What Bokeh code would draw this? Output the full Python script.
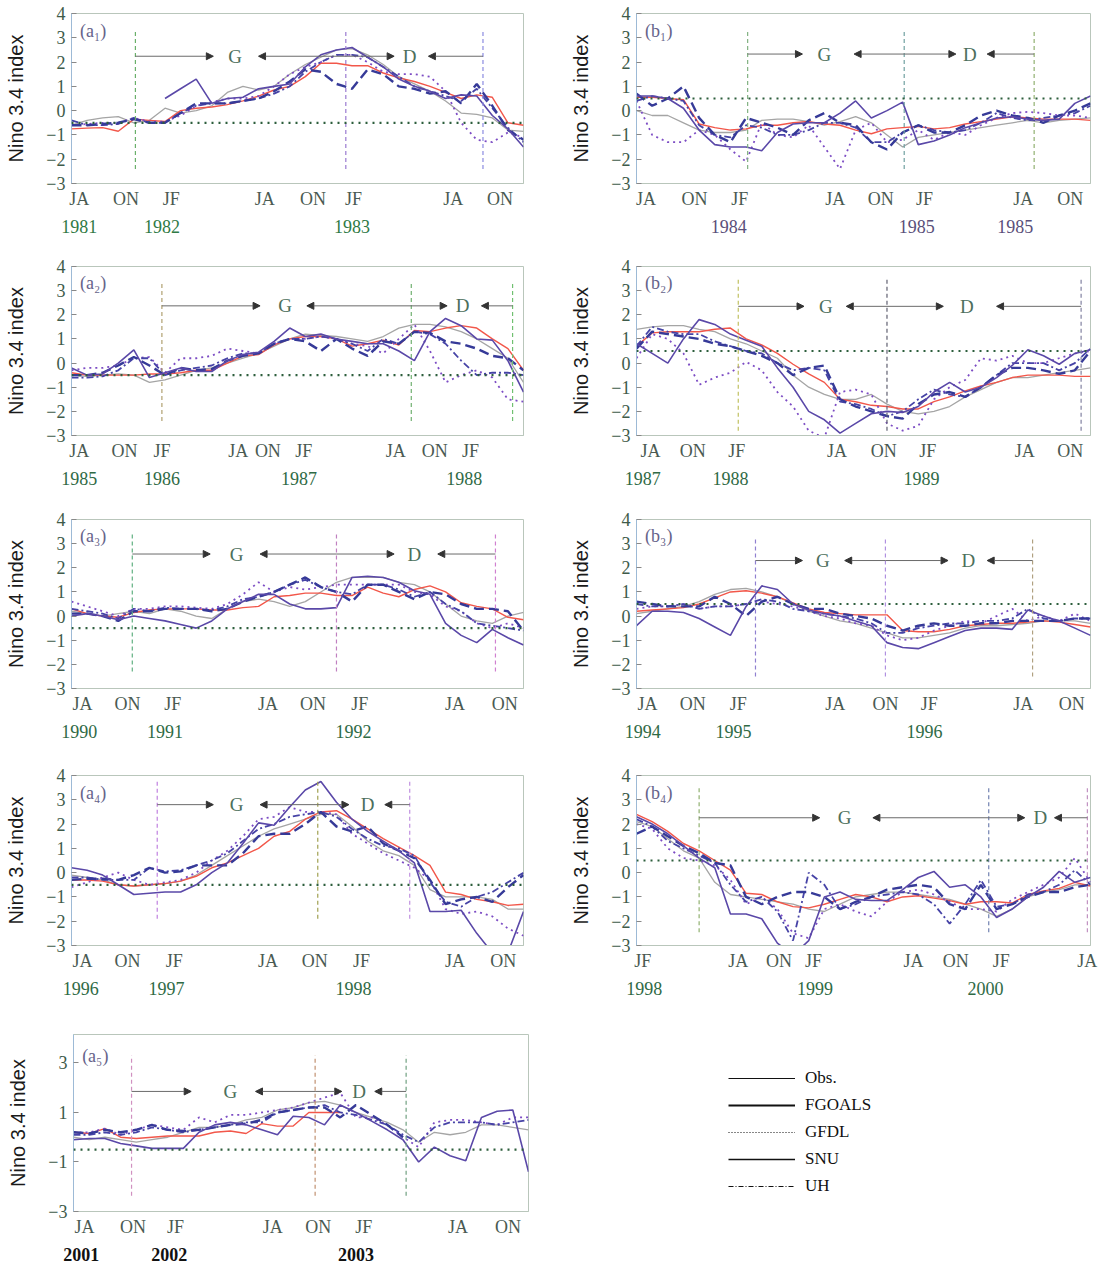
import numpy as np
from bokeh.plotting import figure
from bokeh.models import (Range1d, FixedTicker, LinearAxis, Span, Arrow, NormalHead,
                          ColumnDataSource, Legend, LegendItem)
from bokeh.layouts import column, row
from bokeh.core.properties import value
from bokeh.embed import file_html
from bokeh.resources import INLINE

N = None
# ---------------- data (Nino 3.4 index, monthly, 30 months per panel) ----------------
a1_obs = [-0.6,-0.4,-0.3,-0.25,-0.5,-0.4,0.1,-0.1,0.0,0.2, 0.75,1.0,0.85,1.0,1.5,1.9,2.2,2.5,2.55,2.3, 1.9,1.4,1.1,0.8,0.4,-0.1,-0.15,-0.3,-0.8,-0.85]
a1_ens = [-0.75,-0.72,-0.7,-0.85,-0.35,-0.4,-0.45,0.0,0.1,0.15, 0.25,0.4,0.6,0.85,1.0,1.4,1.95,1.95,1.85,1.85, 1.55,1.35,1.2,1.0,0.75,0.5,0.65,0.55,-0.5,-0.6]
a1_snu = [N,N,N,N,N,N,0.5,0.9,1.3,0.3, 0.5,0.55,0.9,1.0,1.1,1.8,2.3,2.5,2.6,2.2, 1.8,1.3,1.0,0.8,0.5,0.65,0.6,-0.2,-0.75,-1.5]
a1_fgoals = [-0.6,-0.6,-0.55,-0.5,-0.35,-0.5,-0.5,-0.1,0.3,0.3, 0.3,0.4,0.5,0.8,1.2,1.7,1.6,1.1,0.9,1.7, 1.5,1.0,0.9,0.7,0.8,0.3,1.1,0.2,-0.8,-1.2]
a1_gfdl = [-0.6,-0.55,-0.5,-0.5,-0.3,-0.45,-0.45,-0.2,0.2,0.35, 0.5,0.5,0.6,1.0,1.5,1.8,2.0,2.3,2.3,2.0, 1.6,1.5,1.5,1.4,0.8,-0.5,-1.2,-1.3,-0.9,-1.1]
a1_uh = [-0.4,-0.6,-0.6,-0.55,-0.3,-0.5,-0.5,-0.1,0.2,0.3, 0.3,0.4,0.5,0.7,1.0,1.6,2.0,2.3,2.3,2.2, 1.8,1.4,1.0,0.8,0.6,0.4,0.9,0.1,-0.7,-1.3]

a2_obs = [-0.5,-0.55,-0.5,-0.45,-0.5,-0.8,-0.7,-0.5,-0.3,-0.2, 0.0,0.2,0.4,0.7,1.0,1.2,1.15,1.1,1.0,0.9, 1.1,1.45,1.6,1.6,1.5,1.3,1.0,0.6,0.2,-0.8]
a2_ens = [-0.4,-0.5,-0.5,-0.5,-0.5,-0.45,-0.45,-0.4,-0.3,-0.3, 0.0,0.3,0.35,0.75,1.0,1.1,1.1,1.0,0.7,0.8, 0.95,0.75,1.35,1.3,1.45,1.55,1.45,1.0,0.6,-0.3]
a2_snu = [-0.2,-0.5,-0.45,0.0,0.55,-0.6,-0.4,-0.2,-0.35,-0.35, 0.1,0.35,0.45,0.9,1.45,1.1,1.2,1.0,0.9,0.8, 0.8,0.5,0.1,1.3,1.85,1.55,1.0,0.95,0.1,-1.2]
a2_fgoals = [-0.5,-0.5,-0.4,-0.1,0.25,-0.1,-0.5,-0.2,-0.3,-0.25, 0.1,0.3,0.4,0.8,1.0,0.9,0.5,1.0,0.6,0.3, 0.9,0.8,1.3,1.25,0.9,0.8,0.6,0.3,0.2,-0.3]
a2_gfdl = [-0.3,-0.2,-0.2,-0.1,0.2,0.25,-0.4,0.2,0.2,0.3, 0.6,0.5,0.4,0.8,1.0,1.0,1.1,1.0,0.8,0.7, 0.4,1.0,1.6,0.5,-0.8,-0.5,-0.3,-0.6,-1.5,-1.6]
a2_uh = [-0.6,-0.6,-0.55,-0.3,0.2,0.2,-0.5,-0.3,-0.2,-0.1, 0.2,0.4,0.4,0.8,1.0,1.0,1.1,1.0,0.8,0.5, 1.0,0.8,1.3,1.2,0.8,0.1,-0.5,-0.4,-0.4,-0.5]

a3_obs = [0.2,0.1,0.0,0.1,0.2,0.1,0.3,0.2,0.0,-0.1, 0.3,0.6,0.7,0.6,0.4,0.6,1.0,1.4,1.6,1.6, 1.6,1.4,1.3,1.0,0.5,0.0,-0.2,-0.3,0.0,0.15]
a3_ens = [0.3,0.1,0.0,-0.05,0.15,0.25,0.3,0.3,0.3,0.25, 0.25,0.35,0.4,0.8,0.85,0.95,0.95,0.85,0.85,1.2, 0.95,0.8,1.1,1.25,1.0,0.55,0.4,0.3,-0.05,-0.15]
a3_snu = [0.0,0.1,0.0,-0.15,0.0,-0.1,-0.2,-0.35,-0.5,-0.2, 0.3,0.6,0.9,0.9,0.5,0.3,0.3,0.35,1.6,1.65, 1.6,1.4,1.05,0.9,-0.3,-0.8,-1.1,-0.55,-0.9,-1.2]
a3_fgoals = [0.1,0.1,0.0,-0.2,0.2,0.2,0.3,0.3,0.3,0.2, 0.3,0.6,0.8,1.0,1.3,1.6,1.2,1.0,0.6,1.3, 1.3,1.0,0.7,1.0,0.9,0.5,0.3,0.3,0.2,-0.6]
a3_gfdl = [0.6,0.4,0.2,0.0,0.3,0.3,0.4,0.4,0.35,0.3, 0.5,0.9,1.4,1.0,1.2,1.1,1.2,1.3,1.3,1.3, 1.3,1.3,1.0,0.9,0.4,0.2,-0.3,-0.5,-0.3,-0.5]
a3_uh = [0.3,0.2,0.1,-0.1,0.3,0.2,0.35,0.3,0.3,0.25, 0.4,0.7,0.8,1.0,1.3,1.5,1.2,1.0,0.9,1.3, 1.3,1.1,0.8,1.0,0.5,0.2,-0.3,-0.4,-0.5,-0.6]

a4_obs = [-0.1,-0.2,-0.3,-0.5,-0.55,-0.5,-0.45,-0.35,-0.1,0.3, 0.7,1.1,1.5,1.8,2.0,2.2,2.4,2.4,1.9,1.3, 0.9,0.7,0.3,-0.7,-1.0,-1.0,-1.0,-1.1,-1.5,-1.5]
a4_ens = [-0.3,-0.3,-0.35,-0.5,-0.55,-0.5,-0.45,-0.35,-0.15,0.2, 0.4,0.7,1.0,1.5,1.7,2.2,2.5,2.55,2.2,1.8, 1.4,1.05,0.7,0.3,-0.8,-0.9,-1.1,-1.2,-1.35,-1.3]
a4_snu = [0.2,0.1,-0.1,-0.5,-0.9,-0.85,-0.8,-0.8,-0.5,0.0, 0.4,1.2,2.05,1.95,2.7,3.4,3.75,2.9,2.2,1.7, 1.3,0.9,0.4,-1.6,-1.6,-1.55,-2.5,-3.3,-3.3,-1.6]
a4_fgoals = [-0.3,-0.25,-0.25,-0.3,-0.1,0.2,0.0,0.05,0.3,0.3, 0.3,0.8,1.5,1.6,1.6,2.0,2.5,1.9,1.7,1.9, 1.2,0.9,0.6,-0.3,-1.3,-1.1,-1.0,-1.2,-0.6,-0.1]
a4_gfdl = [-0.6,-0.4,-0.2,0.0,-0.3,-0.5,-0.4,-0.3,0.0,0.5, 0.9,1.5,2.2,2.3,2.7,2.5,2.5,2.4,1.6,1.2, 0.8,0.5,0.2,-0.3,-1.5,-1.7,-1.6,-1.8,-2.3,-2.6]
a4_uh = [-0.2,-0.2,-0.3,-0.3,-0.3,0.2,0.05,0.1,0.3,0.5, 0.8,1.3,1.8,2.0,2.3,2.4,2.5,2.3,1.8,1.4, 1.1,1.0,0.7,-0.4,-1.2,-1.4,-1.0,-0.8,-0.4,0.0]

a5_obs = [0.0,-0.1,0.0,-0.1,-0.2,-0.1,0.0,0.2,0.4,0.4, 0.5,0.7,0.8,1.1,1.2,1.4,1.45,1.3,1.0,0.8, 0.6,0.3,-0.2,0.2,0.1,0.2,0.5,0.5,0.4,0.3]
a5_ens = [0.2,0.15,0.35,0.0,-0.05,0.0,0.05,0.05,0.05,0.2, 0.25,0.15,0.55,0.45,0.45,1.0,1.0,1.0,N,N, N,N,N,N,N,N,N,N,N,N]
a5_snu = [-0.1,-0.05,-0.05,-0.25,-0.35,-0.45,-0.45,-0.45,0.2,0.5, 0.6,0.5,0.3,0.1,0.85,0.8,0.5,1.3,1.0,0.65, 0.3,-0.1,-1.0,-0.4,-0.75,-0.95,0.8,1.05,1.1,-1.4]
a5_fgoals = [0.2,0.15,0.3,0.2,0.3,0.5,0.3,0.25,0.3,0.4, 0.5,0.55,0.7,1.0,1.1,1.2,1.2,0.8,1.3,0.9, 0.5,0.0,N,N,N,N,N,N,N,N]
a5_gfdl = [0.2,0.2,0.35,0.1,0.3,0.5,0.4,0.3,0.8,0.6, 0.9,0.9,1.0,1.1,1.2,1.4,1.6,1.8,0.8,0.8, 0.5,0.0,-0.4,0.6,0.7,0.7,0.6,0.5,0.8,0.8]
a5_uh = [0.1,0.1,0.2,0.1,0.2,0.4,0.3,0.2,0.3,0.4, 0.5,0.6,0.6,1.0,1.1,1.2,1.3,1.0,0.9,0.7, 0.5,0.1,-0.2,0.4,0.6,0.6,0.6,0.5,0.6,0.7]

b1_obs = [0.0,-0.2,-0.2,-0.5,-0.8,-0.9,-0.9,-0.8,-0.4,-0.35, -0.35,-0.45,-0.6,-0.45,-0.25,-0.5,-1.0,-1.5,-1.1,-1.0, -0.9,-0.8,-0.7,-0.6,-0.5,-0.4,-0.5,-0.4,-0.35,-0.3]
b1_ens = [0.55,0.55,0.5,0.45,-0.55,-0.7,-0.8,-0.75,-0.6,-0.6, -0.5,-0.45,-0.55,-0.6,-0.8,-0.95,-0.75,-0.7,-0.65,-0.75, -0.7,-0.55,-0.45,-0.35,-0.25,-0.3,-0.35,-0.35,-0.35,-0.4]
b1_snu = [0.6,0.6,0.5,0.1,-0.8,-1.4,-1.5,-1.5,-1.65,-0.9, -0.55,-0.5,-0.5,-0.1,0.4,-0.3,0.0,0.35,-1.4,-1.25, -1.0,-0.7,-0.5,-0.3,-0.25,-0.35,-0.4,-0.35,0.3,0.6]
b1_fgoals = [0.7,0.2,0.5,1.0,-0.3,-1.0,-1.3,-0.3,-0.5,-0.7, -1.0,-0.4,-0.1,-0.5,-0.6,-1.3,-1.6,-0.9,-0.6,-0.9, -0.9,-0.6,-0.2,0.0,-0.2,-0.3,-0.5,-0.2,0.0,0.3]
b1_gfdl = [0.4,-1.0,-1.3,-1.3,-0.8,-1.0,-1.6,-2.1,-0.5,-1.0, -1.1,-0.6,-1.5,-2.4,-0.8,-0.5,-1.3,-1.2,-0.8,-1.2, -0.9,-1.0,-0.6,-0.3,-0.1,-0.05,-0.1,-0.2,-0.2,-0.3]
b1_uh = [0.4,0.6,0.5,0.4,-0.6,-1.0,-1.1,-0.6,-0.7,-1.0, -1.0,-0.8,-0.5,-0.5,-0.7,-1.3,-1.3,-0.9,-0.6,-0.8, -0.9,-0.8,-0.5,-0.1,-0.3,-0.4,-0.3,-0.2,-0.1,0.2]

b2_obs = [1.4,1.5,1.55,1.55,1.4,1.3,1.0,0.8,0.5,0.2, -0.5,-1.0,-1.3,-1.5,-1.5,-1.3,-1.7,-2.0,-2.1,-2.0, -1.8,-1.4,-1.1,-0.8,-0.6,-0.6,-0.5,-0.4,-0.3,-0.2]
b2_ens = [0.7,1.25,1.3,1.3,1.3,1.4,1.45,1.0,0.75,0.4, -0.05,-0.45,-0.8,-1.5,-1.6,-1.75,-1.8,-1.9,-1.9,-1.6, -1.4,-1.15,-0.95,-0.8,-0.6,-0.5,-0.5,-0.5,-0.55,-0.55]
b2_snu = [0.8,0.4,0.0,1.0,1.8,1.6,1.2,0.95,0.7,-0.2, -1.0,-2.0,-2.35,-2.9,-2.5,-2.1,-2.0,-2.05,-1.8,-1.2, -0.8,-1.2,-1.0,-0.6,-0.1,0.55,0.3,-0.05,0.4,0.55]
b2_fgoals = [0.6,1.3,1.2,1.1,1.0,0.8,0.7,0.5,0.3,0.0, -0.5,-0.2,-0.1,-1.5,-1.8,-2.0,-2.2,-2.3,-1.7,-1.3, -1.2,-1.4,-1.0,-0.5,-0.2,-0.2,-0.3,-0.45,-0.3,0.5]
b2_gfdl = [0.2,1.2,1.0,0.4,-0.9,-0.6,-0.4,0.05,-0.3,-1.2, -1.8,-2.8,-3.1,-1.2,-1.1,-1.3,-2.5,-2.8,-2.6,-1.5, -1.0,-0.7,0.2,0.1,0.3,0.0,0.0,0.2,0.4,0.5]
b2_uh = [0.7,1.5,1.3,1.2,1.2,0.9,0.7,0.5,0.4,0.0, -0.3,-0.2,-0.3,-1.6,-1.7,-1.9,-2.2,-2.0,-1.5,-1.1, -1.3,-1.4,-1.0,-0.5,0.0,0.0,0.0,-0.3,0.0,0.6]

b3_obs = [0.1,0.2,0.3,0.4,0.6,0.9,1.1,1.15,1.0,0.8, 0.5,0.2,0.0,-0.2,-0.3,-0.5,-0.7,-0.9,-0.9,-0.8, -0.7,-0.5,-0.4,-0.4,-0.35,-0.3,-0.2,-0.2,-0.2,-0.3]
b3_ens = [0.2,0.25,0.3,0.35,0.5,0.75,1.0,1.05,0.95,0.8, 0.55,0.3,0.15,0.1,0.05,0.05,0.05,-0.6,-0.65,-0.65, -0.55,-0.4,-0.35,-0.3,-0.3,-0.25,-0.2,-0.25,-0.35,-0.45]
b3_snu = [-0.4,0.2,0.2,0.15,-0.1,-0.45,-0.8,0.4,1.25,1.1, 0.5,0.25,0.1,0.0,-0.2,-0.4,-1.1,-1.3,-1.35,-1.1, -0.85,-0.6,-0.5,-0.5,-0.55,0.25,0.0,-0.2,-0.5,-0.8]
b3_fgoals = [0.6,0.5,0.4,0.4,0.4,0.8,0.5,0.0,0.6,0.8, 0.5,0.3,0.3,0.1,0.0,-0.1,-0.4,-0.6,-0.4,-0.3, -0.4,-0.4,-0.3,-0.3,-0.2,-0.2,-0.2,-0.2,-0.1,-0.1]
b3_gfdl = [0.3,0.4,0.4,0.5,0.3,0.4,0.4,0.5,0.6,0.5, 0.4,0.2,0.0,-0.1,-0.3,-0.4,-0.8,-1.0,-0.9,-0.6, -0.4,-0.2,-0.3,0.0,0.3,-0.2,0.0,-0.2,0.1,-0.2]
b3_uh = [0.5,0.4,0.4,0.5,0.3,0.4,0.4,0.5,0.7,0.6, 0.3,0.2,0.1,0.0,-0.1,-0.3,-0.7,-0.7,-0.5,-0.4, -0.3,-0.3,-0.2,-0.2,-0.1,0.3,-0.1,-0.2,-0.1,-0.1]

b4_obs = [2.1,1.9,1.4,0.9,0.6,-0.4,-0.9,-1.0,-1.1,-1.2, -1.3,-1.5,-1.6,-1.3,-1.0,-0.9,-0.8,-0.8,-0.9,-1.0, -1.1,-1.3,-1.5,-1.8,-1.5,-1.0,-0.8,-0.7,-0.5,-0.5]
b4_ens = [2.4,2.1,1.7,1.2,0.9,0.5,0.1,-0.85,-0.9,-1.2, -1.4,-1.45,-1.3,-1.1,-0.9,-1.0,-1.2,-1.0,-0.95,-1.05, -1.15,-1.3,-1.2,-1.2,-1.25,-0.9,-0.75,-0.65,-0.4,-0.55]
b4_snu = [2.3,2.0,1.6,1.1,0.6,0.2,-1.7,-1.7,-1.9,-2.9, -3.4,-2.8,-1.0,-0.8,-1.1,-1.15,-1.15,-0.7,-0.2,0.05, -0.6,-0.5,-1.0,-1.85,-1.5,-1.0,-0.6,0.05,-0.4,-0.2]
b4_fgoals = [1.6,1.9,1.5,1.1,0.8,0.4,0.3,-1.0,-1.3,-1.0, -0.8,-0.8,-1.0,-1.5,-1.2,-1.0,-0.7,-0.6,-0.5,-0.6, -1.3,-1.5,-0.5,-1.5,-1.3,-1.0,-0.8,-0.8,-0.6,-0.5]
b4_gfdl = [2.0,1.8,1.0,0.6,0.5,0.3,-0.3,-1.3,-1.0,-1.5, -2.5,-2.7,-1.5,-1.3,-1.6,-1.8,-1.2,-0.8,-0.7,-0.9, -1.2,-1.5,-1.5,-1.6,-1.1,-0.8,-0.5,-0.2,0.6,-0.4]
b4_uh = [2.2,1.9,1.3,1.0,0.7,0.4,-0.5,-1.2,-1.0,-1.6, -2.8,0.0,-0.5,-1.5,-1.3,-1.0,-0.9,-0.8,-0.9,-1.3, -2.1,-1.3,-0.3,-1.4,-1.3,-0.9,-0.8,-0.5,0.1,-0.5]

a_threshold = -0.5
b_threshold = 0.5

# tick labels (months) and years
a1_months = ["JA", "ON", "JF", "JA", "ON", "JF", "JA", "ON"]
a2_months = ["JA", "ON", "JF", "JA", "ON", "JF", "JA", "ON", "JF"]
b4_months = ["JF", "JA", "ON", "JF", "JA", "ON", "JF", "JA"]
a1_years = ["1981", "1982", "1983"]
a2_years = ["1985", "1986", "1987", "1988"]
a3_years = ["1990", "1991", "1992"]
a4_years = ["1996", "1997", "1998"]
a5_years = ["2001", "2002", "2003"]
b1_years = ["1984", "1985", "1985"]
b2_years = ["1987", "1988", "1989"]
b3_years = ["1994", "1995", "1996"]
b4_years = ["1998", "1999", "2000"]
legend_labels = ["Obs.", "FGOALS", "GFDL", "SNU", "UH"]

# ---------------- styles ----------------
SERIF = "Liberation Serif"
SANS = "Liberation Sans"
MINUS = "\u2212"
STYLES = {
    "obs": dict(line_color="#a5a5a5", line_width=1.3),
    "ens": dict(line_color="#f2574a", line_width=1.4),
    "gfdl": dict(line_color="#7c4cc4", line_width=1.8, line_dash="2 4"),
    "uh": dict(line_color="#4643a6", line_width=1.8, line_dash="7 3 2 3"),
    "fgoals": dict(line_color="#363a98", line_width=2.4, line_dash="10 5"),
    "snu": dict(line_color="#5a48a8", line_width=1.6),
}


def make_panel(label, series, ticks, months, ypos, years, thr, ann, width, height,
               bl, br, bt, frame_h, y_top=4.0, yticks=(-3, -2, -1, 0, 1, 2, 3, 4),
               year_color="#2f6a45", year_style="normal"):
    bb = height - bt - frame_h
    p = figure(width=width, height=height, x_range=Range1d(0, 29), y_range=Range1d(-3, y_top),
               output_backend="svg", toolbar_location=None,
               min_border_left=bl, min_border_right=br, min_border_top=bt, min_border_bottom=bb)
    p.grid.visible = False
    p.outline_line_color = "#b9c6bb"
    p.background_fill_color = "white"
    p.border_fill_color = "white"

    yax = p.yaxis[0]
    yax.ticker = FixedTicker(ticks=list(yticks))
    yax.major_label_overrides = {t: (MINUS + str(abs(t)) if t < 0 else str(t)) for t in yticks}
    yax.axis_label = "Nino 3.4 index"
    yax.axis_label_text_font = SANS
    yax.axis_label_text_font_size = "20px"
    yax.axis_label_text_font_style = "normal"
    yax.axis_label_text_color = "#1a1a1a"
    yax.axis_label_standoff = 16
    yax.major_label_text_font = SERIF
    yax.major_label_text_font_size = "18px"
    yax.major_label_text_color = "#3e5b4a"
    yax.major_label_standoff = 6
    yax.major_tick_in = 5
    yax.major_tick_out = 0
    yax.major_tick_line_color = "#888888"
    yax.minor_tick_line_color = None
    yax.axis_line_color = "#9dbad6"

    xax = p.xaxis[0]
    xax.ticker = FixedTicker(ticks=ticks)
    xax.major_label_overrides = dict(zip(ticks, months))
    xax.major_tick_in = 0
    xax.major_tick_out = 0
    xax.minor_tick_line_color = None
    xax.major_label_standoff = 5
    xax.major_label_text_font = SERIF
    xax.major_label_text_font_size = "18px"
    xax.major_label_text_color = "#4a5a52"
    xax.axis_line_color = "#b9c6bb"

    yr = LinearAxis(ticker=FixedTicker(ticks=ypos),
                    major_label_overrides=dict(zip(ypos, years)),
                    axis_line_color=None, major_tick_line_color=None, minor_tick_line_color=None,
                    major_label_standoff=2, major_label_text_font=SERIF,
                    major_label_text_font_size="18px", major_label_text_color=year_color,
                    major_label_text_font_style=year_style)
    p.add_layout(yr, "below")

    # threshold
    p.add_layout(Span(location=thr, dimension="width", line_color="#2d5e3c",
                      line_width=2.2, line_dash="2 5"))

    # series
    for key in ["obs", "ens", "gfdl", "uh", "fgoals", "snu"]:
        s = np.array(series[key], dtype=float)
        p.line(np.arange(len(s)), s, **STYLES[key])

    # vertical dashed phase lines
    v = ann["v"]
    vy0, vy1 = ann["vy"]
    p.segment(x0=v, y0=[vy0] * len(v), x1=v, y1=[vy1] * len(v),
              line_color=ann["vc"], line_dash="4 3", line_width=1.2)

    # arrows
    ay = ann["ay"]
    h = ann["h"]
    for xs, xe in [(v[0], h[0]), (v[1], h[1]), (v[1], h[2]), (v[2], h[3])]:
        p.add_layout(Arrow(end=NormalHead(size=7, fill_color="#333333", line_color="#333333"),
                           x_start=xs, y_start=ay, x_end=xe, y_end=ay,
                           line_color="#6a6a6a", line_width=1))
    p.text(x=[ann["G"], ann["D"]], y=[ay, ay], text=["G", "D"], text_font=value(SERIF),
           text_font_size="19px", text_align="center", text_baseline="middle",
           text_color="#4d6f5c")
    p.text(x=[0.55], y=[ann.get("ly", 3.3)], text=[label], text_font=value(SERIF),
           text_font_size="18px", text_align="left", text_baseline="middle",
           text_color="#66638a")
    return p


def S(obs, ens, snu, fgoals, gfdl, uh):
    return dict(obs=obs, ens=ens, snu=snu, fgoals=fgoals, gfdl=gfdl, uh=uh)


LW, RW = 562, 541

pa1 = make_panel("(a\u2081)", S(a1_obs, a1_ens, a1_snu, a1_fgoals, a1_gfdl, a1_uh),
                 [0.5, 3.5, 6.4, 12.4, 15.5, 18.1, 24.5, 27.5], a1_months,
                 [0.5, 5.8, 18.0], a1_years, a_threshold,
                 dict(v=[4.1, 17.6, 26.4], vc=["#6ab06a", "#9a7ad0", "#8a8ae0"], vy=(-2.4, 3.3),
                      ay=2.24, G=10.5, D=21.7, h=[9.1, 12.0, 20.7, 22.9]),
                 LW, 252, 71, 39, 13, 173, year_color="#2f7a45")
pb1 = make_panel("(b\u2081)", S(b1_obs, b1_ens, b1_snu, b1_fgoals, b1_gfdl, b1_uh),
                 [0.6, 3.7, 6.6, 12.7, 15.6, 18.4, 24.7, 27.7], a1_months,
                 [5.9, 17.9, 24.2], b1_years, b_threshold,
                 dict(v=[7.1, 17.1, 25.4], vc=["#80b080", "#70a0a0", "#90b070"], vy=(-2.4, 3.3),
                      ay=2.33, G=12.0, D=21.3, h=[10.6, 13.9, 20.4, 22.4]),
                 RW, 252, 74, 13, 8, 175, year_color="#5a4f7a")

pa2 = make_panel("(a\u2082)", S(a2_obs, a2_ens, a2_snu, a2_fgoals, a2_gfdl, a2_uh),
                 [0.5, 3.4, 5.8, 10.7, 12.6, 14.9, 20.8, 23.3, 25.6], a2_months,
                 [0.5, 5.8, 14.6, 25.2], a2_years, a_threshold,
                 dict(v=[5.8, 21.8, 28.3], vc=["#b0a070", "#70b070", "#70c070"], vy=(-2.4, 3.4),
                      ay=2.37, G=13.7, D=25.1, h=[12.1, 15.1, 24.1, 26.3]),
                 LW, 253, 71, 39, 14, 171)
pb2 = make_panel("(b\u2082)", S(b2_obs, b2_ens, b2_snu, b2_fgoals, b2_gfdl, b2_uh),
                 [0.9, 3.6, 6.4, 12.8, 15.8, 18.6, 24.8, 27.7], a1_months,
                 [0.4, 6.0, 18.2], b2_years, b_threshold,
                 dict(v=[6.5, 16.0, 28.4], vc=["#c0c060", "#606070", "#8080a0"], vy=(-2.8, 3.5),
                      ay=2.35, G=12.1, D=21.1, h=[10.7, 13.4, 19.6, 23.0]),
                 RW, 253, 74, 13, 13, 170)

pa3 = make_panel("(a\u2083)", S(a3_obs, a3_ens, a3_snu, a3_fgoals, a3_gfdl, a3_uh),
                 [0.7, 3.6, 6.5, 12.6, 15.5, 18.5, 24.6, 27.8], a1_months,
                 [0.5, 6.0, 18.1], a3_years, a_threshold,
                 dict(v=[3.9, 17.0, 27.2], vc=["#60b080", "#c080c0", "#d080d0"], vy=(-2.3, 3.4),
                      ay=2.57, G=10.6, D=22.0, h=[8.9, 12.1, 20.7, 23.5]),
                 LW, 257, 71, 39, 14, 173)
pb3 = make_panel("(b\u2083)", S(b3_obs, b3_ens, b3_snu, b3_fgoals, b3_gfdl, b3_uh),
                 [0.7, 3.6, 6.5, 12.7, 15.9, 18.7, 24.7, 27.8], a1_months,
                 [0.4, 6.2, 18.4], b3_years, b_threshold,
                 dict(v=[7.6, 15.9, 25.3], vc=["#9080d0", "#b090e0", "#b0a080"], vy=(-2.5, 3.2),
                      ay=2.3, G=11.9, D=21.2, h=[10.6, 13.3, 19.9, 22.4]),
                 RW, 257, 74, 13, 10, 173)

pa4 = make_panel("(a\u2084)", S(a4_obs, a4_ens, a4_snu, a4_fgoals, a4_gfdl, a4_uh),
                 [0.7, 3.6, 6.6, 12.6, 15.6, 18.6, 24.6, 27.7], a1_months,
                 [0.6, 6.1, 18.1], a4_years, a_threshold,
                 dict(v=[5.5, 15.8, 21.7], vc=["#c080e0", "#a0a050", "#c090e0"], vy=(-1.9, 3.8),
                      ay=2.8, G=10.6, D=19.0, h=[9.1, 12.1, 17.8, 20.1]),
                 LW, 258, 71, 39, 13, 173)
pb4 = make_panel("(b\u2084)", S(b4_obs, b4_ens, b4_snu, b4_fgoals, b4_gfdl, b4_uh),
                 [0.4, 6.5, 9.1, 11.3, 17.7, 20.4, 23.3, 28.8], b4_months,
                 [0.5, 11.4, 22.3], b4_years, b_threshold,
                 dict(v=[4.0, 22.5, 28.8], vc=["#90b070", "#7080b0", "#c090c0"], vy=(-2.45, 3.5),
                      ay=2.26, G=13.3, D=25.8, h=[11.7, 15.1, 24.8, 26.7]),
                 RW, 258, 74, 13, 13, 170)

pa5 = make_panel("(a\u2085)", S(a5_obs, a5_ens, a5_snu, a5_fgoals, a5_gfdl, a5_uh),
                 [0.7, 3.8, 6.5, 12.7, 15.6, 18.5, 24.5, 27.7], a1_months,
                 [0.5, 6.1, 18.0], a5_years, a_threshold,
                 dict(v=[3.7, 15.4, 21.2], vc=["#d090c0", "#c09070", "#70a080"], vy=(-2.36, 3.3),
                      ay=1.85, G=10.0, D=18.2, h=[7.5, 11.6, 17.1, 19.2]),
                 LW, 243, 73, 34, 14, 179, y_top=4.15, yticks=(-3, -1, 1, 3),
                 year_color="#111111", year_style="bold")

# ---------------- legend panel ----------------
pl = figure(width=RW, height=243, x_range=Range1d(0, 1), y_range=Range1d(0, 1),
            x_axis_type=None, y_axis_type=None, output_backend="svg", toolbar_location=None,
            min_border=0, outline_line_color=None)
pl.grid.visible = False
legend_styles = [dict(line_width=1.1), dict(line_width=2.2), dict(line_width=1.1, line_dash="1 2"),
                 dict(line_width=1.3), dict(line_width=1.1, line_dash="5 2 1 2")]
items = []
for lab, st in zip(legend_labels, legend_styles):
    src = ColumnDataSource(dict(x=np.array([np.nan, np.nan]), y=np.array([np.nan, np.nan])))
    r = pl.line(x="x", y="y", source=src, line_color="#111111", **st)
    items.append(LegendItem(label=lab, renderers=[r]))
leg = Legend(items=items, location=(166, 15), glyph_width=67, glyph_height=20,
             label_height=20, label_standoff=10, spacing=7, padding=0, margin=0,
             border_line_color=None, background_fill_alpha=0,
             label_text_font=SERIF, label_text_font_size="17px", label_text_color="#111111")
pl.add_layout(leg)

layout = column(row(pa1, pb1), row(pa2, pb2), row(pa3, pb3), row(pa4, pb4), row(pa5, pl))

open("out.html", "w").write(file_html(layout, INLINE))
